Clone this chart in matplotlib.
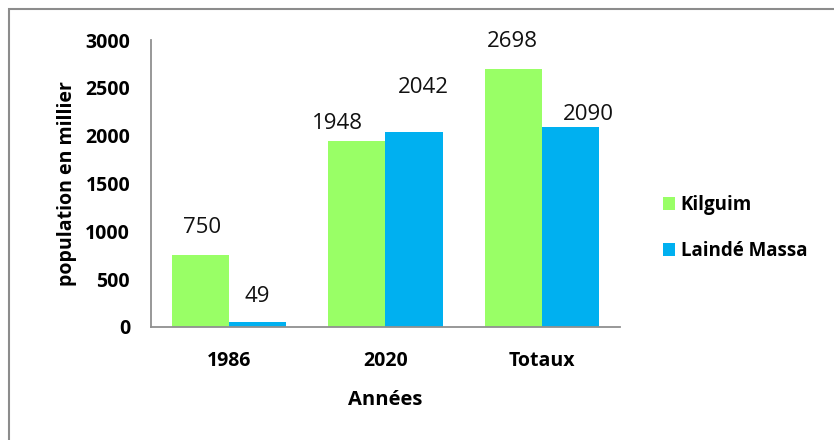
import matplotlib
matplotlib.use("Agg")
import matplotlib.pyplot as plt
import numpy as np
from matplotlib.patches import Rectangle

categories = ["1986", "2020", "Totaux"]
kilguim = [750, 1948, 2698]
lainde = [49, 2042, 2090]
series_names = ["Kilguim", "Laindé Massa"]
colors = ["#99FF66", "#00B0F0"]

# label placement offsets (pixels, dx, dy) as in the manually arranged original
kilguim_label_off = [(1, 28), (-20, 17), (-1, 27)]
lainde_label_off = [(0, 26), (9, 44), (18, 13)]

plt.rcParams['font.family'] = ['Open Sans', 'DejaVu Sans']

fig = plt.figure(figsize=(8.34, 4.40), dpi=100)
ax = fig.add_axes([151/834, 1-327/440, 469/834, 287/440])

x = np.arange(len(categories))
w = 0.365
b1 = ax.bar(x - w/2, kilguim, w, color=colors[0], label=series_names[0])
b2 = ax.bar(x + w/2, lainde, w, color=colors[1], label=series_names[1])

for bars, vals, offs in ((b1, kilguim, kilguim_label_off), (b2, lainde, lainde_label_off)):
    for r, v, o in zip(bars, vals, offs):
        ax.annotate(str(v), (r.get_x() + r.get_width()/2, v), xytext=o,
                    textcoords="offset pixels", ha="center", va="center",
                    fontsize=16, color="#111111")

ax.set_xlim(-0.5, 2.5)
ax.set_ylim(0, 3000)
ax.set_yticks([0, 500, 1000, 1500, 2000, 2500, 3000])
ax.set_xticks(x)
ax.set_xticklabels(categories)
for s in ("top", "right"):
    ax.spines[s].set_visible(False)
for s in ("left", "bottom"):
    ax.spines[s].set_color("#909090")
    ax.spines[s].set_linewidth(1.3)
ax.tick_params(axis="both", length=0, labelsize=14)
ax.tick_params(axis="y", pad=15)
ax.tick_params(axis="x", pad=17)
for lab in ax.get_xticklabels() + ax.get_yticklabels():
    lab.set_fontweight("bold")

ax.set_xlabel("Années", fontsize=14.5, fontweight="bold", labelpad=14)
ax.set_ylabel("population en millier", fontsize=14, fontweight="bold", labelpad=6)

leg = fig.legend(handles=[b1, b2], labels=series_names, loc="center left",
                 bbox_to_anchor=(646/834, 1-228/440), frameon=False,
                 prop={'weight': 'bold', 'size': 13.5}, handlelength=0.65,
                 handleheight=0.65, handletextpad=0.3, labelspacing=1.4)

fig.patches.append(Rectangle((9/834, -0.1), 1.2, 1 - 9/440 + 0.1,
                             transform=fig.transFigure, fill=False,
                             edgecolor="#8C8C8C", linewidth=1.5))

fig.savefig("out.png", dpi=100)
